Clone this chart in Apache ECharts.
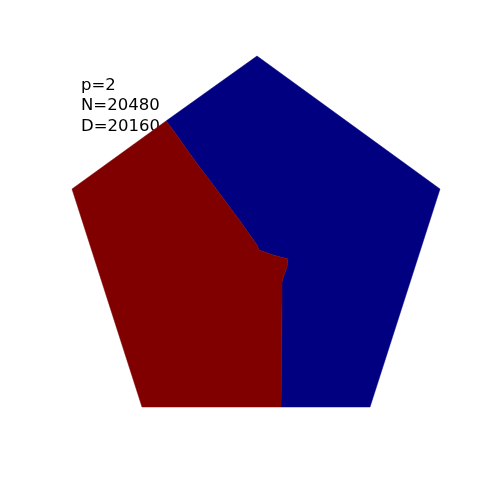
<!DOCTYPE html>
<html>
<head>
<meta charset="utf-8">
<script src="https://cdn.jsdelivr.net/npm/echarts@6/dist/echarts.min.js"></script>
<style>
  html, body { margin: 0; padding: 0; background: #fff; }
  #box { width: 500px; height: 500px; }
</style>
</head>
<body>
<div id="box"></div>
<script>
// partition boundary (x, y in plot units, y down)
const cut = [
  [166, 121], [173, 130], [195, 161], [217, 190], [240, 221], [257, 245],
  [259, 250], [273, 255], [288, 259], [287, 267], [284, 275], [282, 282],
  [282, 300], [281, 407]
];
const pentagon = [[257, 56], [440, 189], [370, 407], [142, 407], [72, 189]];
const regionRed = [pentagon[4]].concat(cut, [pentagon[3]]);
const regionBlue = pentagon.slice(0, 3).concat(cut.slice().reverse());
const regionColors = ['#000080', '#800000'];
const labels = ['p=2', 'N=20480', 'D=20160'];

const chart = echarts.init(document.getElementById('box'));

function polySeries(pts, color) {
  return {
    type: 'custom',
    coordinateSystem: 'cartesian2d',
    data: [0],
    silent: true,
    renderItem: function (params, api) {
      return {
        type: 'polygon',
        shape: { points: pts.map(p => api.coord(p)) },
        style: { fill: color, stroke: color, lineWidth: 0.5 }
      };
    }
  };
}

chart.setOption({
  animation: false,
  grid: { left: 0, right: 0, top: 0, bottom: 0 },
  xAxis: { type: 'value', min: 0, max: 500, show: false },
  yAxis: { type: 'value', min: 0, max: 500, inverse: true, show: false },
  graphic: [{
    type: 'text',
    left: 81,
    top: 75,
    style: {
      text: labels.join('\n'),
      font: '16.5px "DejaVu Sans"',
      lineHeight: 20.5,
      fill: '#000'
    }
  }],
  series: [
    polySeries(regionBlue, regionColors[0]),
    polySeries(regionRed, regionColors[1])
  ]
});
</script>
</body>
</html>
